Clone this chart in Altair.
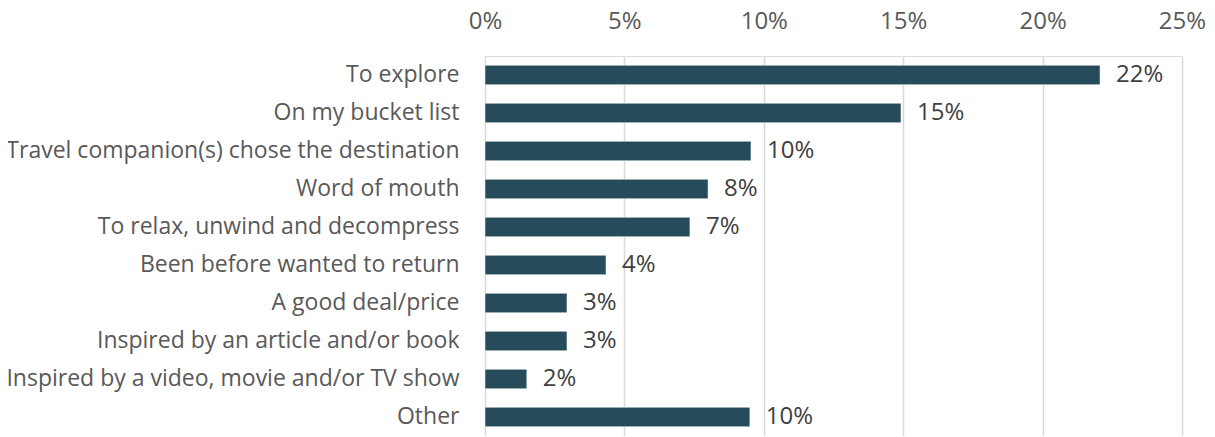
import altair as alt
import pandas as pd

categories = [
    "To explore",
    "On my bucket list",
    "Travel companion(s) chose the destination",
    "Word of mouth",
    "To relax, unwind and decompress",
    "Been before wanted to return",
    "A good deal/price",
    "Inspired by an article and/or book",
    "Inspired by a video, movie and/or TV show",
    "Other",
]
values = [22.06, 14.92, 9.54, 8.0, 7.35, 4.34, 2.94, 2.94, 1.5, 9.5]
labels = ["22%", "15%", "10%", "8%", "7%", "4%", "3%", "3%", "2%", "10%"]

df = pd.DataFrame({"cat": categories, "val": [v / 100 for v in values], "lab": labels})

FONT = "Open Sans"

y_enc = alt.Y("cat:N", sort=categories, title=None,
              scale=alt.Scale(paddingInner=0.49, paddingOuter=0.245),
              axis=alt.Axis(labelFontSize=23, labelColor="#595959", labelFont=FONT,
                            labelPadding=26, ticks=False, domain=False, labelLimit=600))
x_enc = alt.X("val:Q", title=None,
              scale=alt.Scale(domain=[0, 0.25], nice=False),
              axis=alt.Axis(orient="top", format=".0%", values=[0, 0.05, 0.1, 0.15, 0.2, 0.25],
                            labelFontSize=24, labelColor="#595959", labelFont=FONT,
                            labelPadding=23, labelFlush=False, labelOverlap=False,
                            ticks=False, domain=False,
                            grid=True, gridColor="#d9d9d9", gridWidth=1.5))

bars = alt.Chart(df).mark_bar(color="#264b5a", stroke="#ffffff", strokeWidth=0.5).encode(y=y_enc, x=x_enc)
text = alt.Chart(df).mark_text(align="left", baseline="middle", dx=16, fontSize=24,
                               font=FONT, color="#404040").encode(
    y=alt.Y("cat:N", sort=categories), x="val:Q", text="lab:N")

chart = (bars + text).properties(
    width=697, height=380,
    autosize=alt.AutoSizeParams(type="none"),
    padding={"left": 477, "top": 48, "right": 25, "bottom": 0},
).configure_view(stroke=None).configure(background="#ffffff")

chart.save("out.html", embed_options={"renderer": "svg", "actions": False})
